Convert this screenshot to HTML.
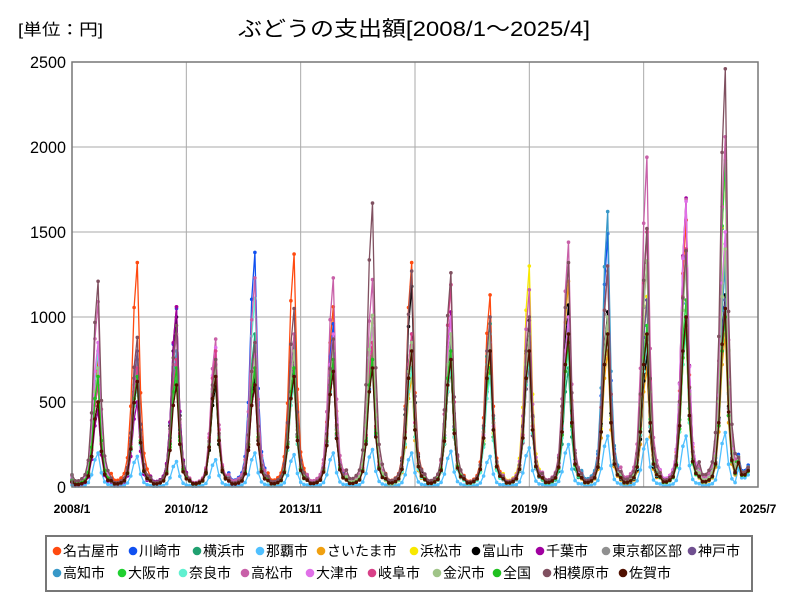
<!DOCTYPE html>
<html><head><meta charset="utf-8">
<style>
body{margin:0;background:#fff;font-family:"Liberation Sans","Noto Sans CJK JP",sans-serif;}
svg text{font-family:"Liberation Sans","Noto Sans CJK JP",sans-serif;}
</style></head>
<body>
<svg id="chart" width="800" height="600" viewBox="0 0 800 600">
<rect width="800" height="600" fill="#fff"/>
<text x="18" y="35" font-size="16" textLength="85" lengthAdjust="spacingAndGlyphs">[単位：円]</text>
<text x="238" y="36" font-size="21" textLength="352" lengthAdjust="spacingAndGlyphs">ぶどうの支出額[2008/1～2025/4]</text>
<g id="grid"></g><g id="series"></g>
<rect x="72" y="62" width="686" height="425" fill="none" stroke="#777" stroke-width="1.5"/>
<g id="axes"></g>
<rect x="46" y="536" width="706" height="55" fill="#fff" stroke="#777" stroke-width="2"/>
<g id="legend"></g>
</svg>
<script>
const names=["名古屋市","川崎市","横浜市","那覇市","さいたま市","浜松市","富山市","千葉市","東京都区部","神戸市","高知市","大阪市","奈良市","高松市","大津市","岐阜市","金沢市","全国","相模原市","佐賀市"];
const colors=["#ff4a10","#1050f0","#20a070","#50c0ff","#f0a010","#f8e800","#000000","#a000a0","#909090","#705090","#3898c8","#20d030","#60f0d0","#c860a8","#e070e8","#d84088","#a0c488","#20c020","#805060","#501000"];
const yTicks=[0,500,1000,1500,2000,2500];
const xTickLabels=["2008/1","2010/12","2013/11","2016/10","2019/9","2022/8","2025/7"];
// monthly seasonal profile (Jan..Dec) relative to annual peak
const monthProfile=[0.06,0.03,0.03,0.04,0.06,0.13,0.36,0.8,1,0.42,0.15,0.08];
const peak0=[750,1320,1060,700,680,1370,1060,820,1320,850,1130,720,900,1000,860,1570,1000,3000];
const peak1=[700,650,1050,600,1380,700,960,720,800,840,800,750,870,1490,840,1350,1320,3200];
const peak2=[650,600,720,680,900,850,700,800,700,700,960,800,700,900,1100,1000,1900,2800];
const peak3=[200,180,150,160,200,190,200,220,200,210,180,230,250,300,280,300,320,1800];
const peak4=[620,700,650,700,700,600,840,960,650,700,750,860,1210,800,700,900,900,2600];
const peak5=[600,650,700,600,650,700,720,760,700,700,760,1300,900,950,1120,900,1910,2400];
const peak6=[500,620,1000,600,650,740,680,750,1180,700,700,980,1070,1030,780,1000,1130,2500];
const peak7=[450,500,1060,650,600,700,730,780,800,1030,700,800,900,900,850,1700,1000,2700];
const peak8=[700,750,800,700,780,800,850,1000,900,900,900,850,1000,1270,1320,1400,1430,2800];
const peak9=[600,800,700,720,750,720,800,850,900,850,800,720,900,1000,1100,1000,1100,2600];
const peak10=[800,700,800,700,800,700,820,800,850,800,900,850,950,1620,900,1000,1300,3000];
const peak11=[650,600,650,650,700,700,800,800,800,800,700,800,850,1000,950,1100,1920,2300];
const peak12=[800,600,700,700,1110,600,700,700,700,700,650,750,800,900,850,900,1000,2500];
const peak13=[1090,700,900,870,1230,900,1230,1220,800,1190,900,1160,1440,1300,1940,1690,2060,2800];
const peak14=[850,700,750,820,780,800,900,950,900,1000,850,900,1000,1300,1500,1680,1500,2600];
const peak15=[600,700,750,800,700,800,750,850,900,1190,800,850,900,1000,1500,1400,1000,2700];
const peak16=[700,650,700,700,750,800,800,1010,850,900,900,900,900,1000,1330,1300,1400,2900];
const peak17=[650,650,700,650,700,700,750,750,800,800,800,800,850,900,900,950,1000,2500];
const peak18=[1210,880,950,750,850,1050,870,1670,1270,1260,1000,1000,1320,1300,1520,1390,2460,2900];
const peak19=[500,620,600,650,600,650,680,700,800,750,800,800,900,900,900,1000,1050,2400];
const peaks=[peak0,peak1,peak2,peak3,peak4,peak5,peak6,peak7,peak8,peak9,peak10,peak11,peak12,peak13,peak14,peak15,peak16,peak17,peak18,peak19];
const NS="http://www.w3.org/2000/svg";
const X0=72,X1=758,Y0=487,Y1=62,NM=208;
const xs=m=>X0+m*(X1-X0)/210;
const ys=v=>Y0-v*(Y0-Y1)/2500;
function mk(t,a,p){const e=document.createElementNS(NS,t);for(const k in a)e.setAttribute(k,a[k]);p.appendChild(e);return e;}
const grid=document.getElementById('grid'),axes=document.getElementById('axes');
yTicks.forEach(v=>{
  const l=mk('line',{x1:X0,x2:X1,y1:ys(v),y2:ys(v),stroke:'#aaa'},grid);
  
  
  const t=mk('text',{x:66,y:ys(v)+6,'font-size':17,'text-anchor':'end',textLength:String(v).length*9,lengthAdjust:'spacingAndGlyphs'},axes);
  t.textContent=v;
  
  
});
xTickLabels.forEach((s,i)=>{
  const x=xs(i*35);
  const l=mk('line',{x1:x,x2:x,y1:Y1,y2:Y0,stroke:'#aaa'},grid);
  
  
  const t=mk('text',{x:x,y:513,'font-size':12,'font-weight':'bold','text-anchor':'middle'},axes);
  t.textContent=s;
  
  
});
const sg=document.getElementById('series');
peaks.forEach((pk,si)=>{
  const g=mk('g',{},sg);
  
  
  const pts=[];
  for(let m=0;m<NM;m++){
    const v=pk[Math.floor(m/12)]*monthProfile[m%12];
    pts.push([xs(m),ys(v)]);
  }
  mk('polyline',{points:pts.map(p=>p[0].toFixed(1)+','+p[1].toFixed(1)).join(' '),fill:'none',stroke:colors[si],'stroke-width':1.3},g);
  pts.forEach(p=>{mk('circle',{cx:p[0].toFixed(1),cy:p[1].toFixed(1),r:1.8,fill:colors[si]},g);});
});
const lg=document.getElementById('legend');
const dotX=[57,133,197,260,321,414,476,540,606,692,57,122,183,245,310,372,437,497,547,623];
names.forEach((n,i)=>{
  const y=i<10?551:573;
  const g=mk('g',{},lg);
  
  
  mk('circle',{cx:dotX[i],cy:y,r:4.3,fill:colors[i]},g);
  const t=mk('text',{x:dotX[i]+6,y:y+5,'font-size':14},g);
  t.textContent=n;
});
</script>
</body></html>
